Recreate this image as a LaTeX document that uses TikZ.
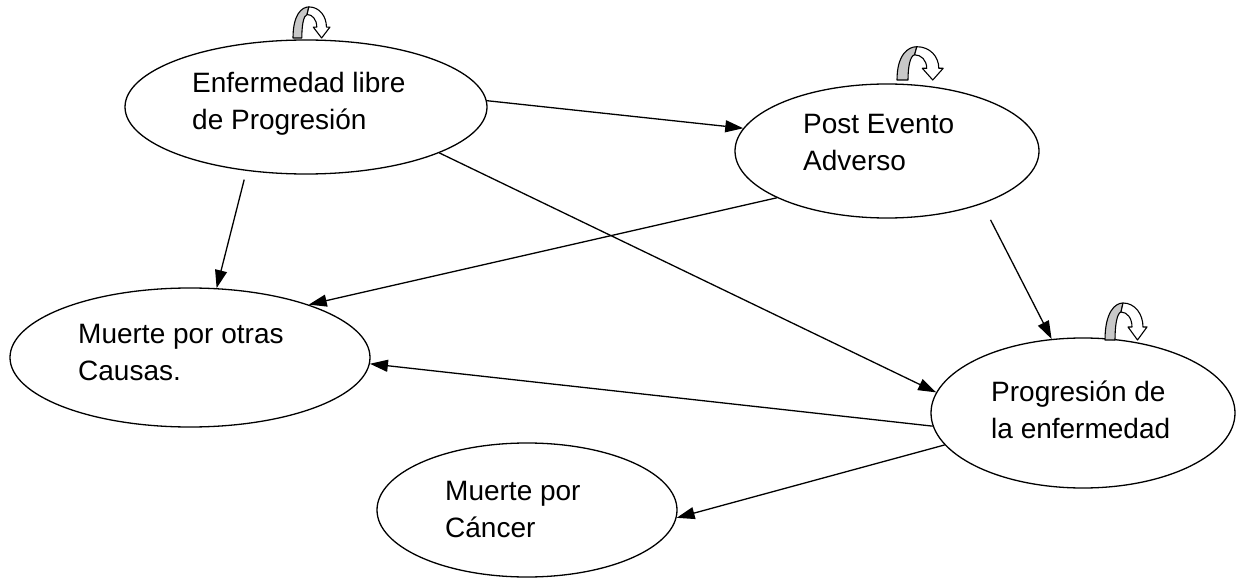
\documentclass[tikz,border=0pt]{standalone}
\usepackage{fontspec}
\setmainfont{Liberation Sans}
\usetikzlibrary{shapes.geometric, arrows.meta}
\definecolor{loopGray}{RGB}{200, 200, 200}

\tikzset{
  stateNode/.style={draw, ellipse, line width=1.3pt, inner sep=0pt},
  stateText/.style={anchor=base west, align=left, inner sep=0pt, font=\fontsize{28}{37}\selectfont},
  flowArrow/.style={line width=1.3pt, -{Triangle[length=18pt,width=12pt]}},
  selfLoop/.pic={
    \filldraw[fill=loopGray, line width=1.1pt, line join=round] (0,0) .. controls (0,-28) and (10,-37) .. (18,-37) -- (16,-28) .. controls (12,-27) and (10,-15) .. (10,0) -- cycle;
    \filldraw[fill=white, line width=1.1pt, line join=round] (18,-37) .. controls (30,-37) and (38,-26) .. (38,-13) -- (42,-13) -- (32.5,0) -- (23,-13) -- (27,-13) .. controls (27,-22) and (22,-28) .. (16,-28) -- cycle;
  }
}

\begin{document}
\begin{tikzpicture}[x=1pt, y=-1pt]
        \useasboundingbox (0,0) rectangle (1237,580);
        % estados
        \node[stateNode, minimum width=362pt, minimum height=134pt] (e1) at (306,107) {};
        \node[stateNode, minimum width=304pt, minimum height=134pt] (e2) at (887,151) {};
        \node[stateNode, minimum width=360pt, minimum height=139pt] (e3) at (190,357.5) {};
        \node[stateNode, minimum width=304pt, minimum height=150pt] (e4) at (1083,413) {};
        \node[stateNode, minimum width=300pt, minimum height=134pt] (e5) at (527,510) {};
        % base = baseline of the second line
        \node[stateText] (t1) at (192,130) {Enfermedad libre\\de Progresión};
        \node[stateText] (t2) at (803,171) {Post Evento\\Adverso};
        \node[stateText] (t3) at (78,380) {Muerte por otras\\Causas.};
        \node[stateText] (t4) at (991,438) {Progresión de\\la enfermedad};
        \node[stateText] (t5) at (445,537) {Muerte por\\Cáncer};
        % transiciones
        \draw[flowArrow] (e1.2) -- (e2.171);
        \draw[flowArrow] (e1.-19) -- (e4.172);
        \draw[flowArrow, shorten <=9pt] (e1.-133) -- (e3.69);
        \draw[flowArrow] (e2.-157) -- (e3.24);
        \draw[flowArrow, shorten <=18pt] (e2.-29) -- (e4.113);
        \draw[flowArrow] (e4.-175) -- (e3.-2);
        \draw[flowArrow] (e4.-167) -- (e5.-3);
        % permanencia en el estado
        \pic[xscale=0.88, yscale=0.84] at (293,38) {selfLoop};
        \pic[xscale=1.1, yscale=0.9] at (897,80) {selfLoop};
        \pic at (1105,340) {selfLoop};
      \end{tikzpicture}
\end{document}
